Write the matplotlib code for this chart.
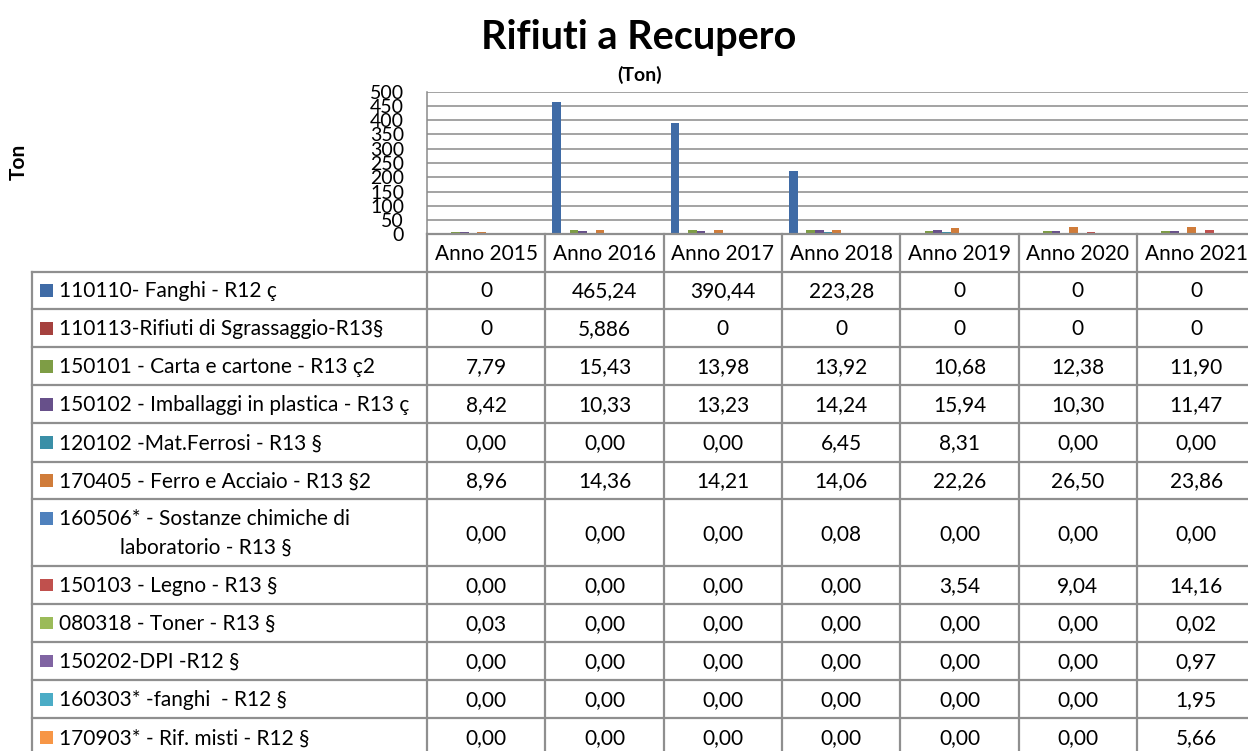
import numpy as np
import matplotlib
matplotlib.use("Agg")
import matplotlib.pyplot as plt
from matplotlib.patches import Rectangle

plt.rcParams['font.family'] = ['Lato', 'DejaVu Sans']

# --- data -----------------------------------------------------------------
years = ["Anno 2015", "Anno 2016", "Anno 2017", "Anno 2018",
         "Anno 2019", "Anno 2020", "Anno 2021"]

series_names = [
    "110110- Fanghi - R12 ç",
    "110113-Rifiuti di Sgrassaggio-R13§",
    "150101 - Carta e cartone - R13 ç2",
    "150102 - Imballaggi in plastica - R13 ç",
    "120102 -Mat.Ferrosi - R13 §",
    "170405 - Ferro e Acciaio - R13 §2",
    "160506* - Sostanze chimiche di\n          laboratorio - R13 §",
    "150103 - Legno - R13 §",
    "080318 - Toner - R13 §",
    "150202-DPI -R12 §",
    "160303* -fanghi  - R12 §",
    "170903* - Rif. misti - R12 §",
]

values = [
    [0, 465.24, 390.44, 223.28, 0, 0, 0],
    [0, 5.886, 0, 0, 0, 0, 0],
    [7.79, 15.43, 13.98, 13.92, 10.68, 12.38, 11.90],
    [8.42, 10.33, 13.23, 14.24, 15.94, 10.30, 11.47],
    [0.00, 0.00, 0.00, 6.45, 8.31, 0.00, 0.00],
    [8.96, 14.36, 14.21, 14.06, 22.26, 26.50, 23.86],
    [0.00, 0.00, 0.00, 0.08, 0.00, 0.00, 0.00],
    [0.00, 0.00, 0.00, 0.00, 3.54, 9.04, 14.16],
    [0.03, 0.00, 0.00, 0.00, 0.00, 0.00, 0.02],
    [0.00, 0.00, 0.00, 0.00, 0.00, 0.00, 0.97],
    [0.00, 0.00, 0.00, 0.00, 0.00, 0.00, 1.95],
    [0.00, 0.00, 0.00, 0.00, 0.00, 0.00, 5.66],
]

# first two rows use Excel "general" format, the rest two decimals
number_formats = ["general", "general"] + ["fixed2"] * 10

colors = ["#3F6BA6", "#A5413E", "#7E9D45", "#67508A", "#3A8FA7", "#D07C3A",
          "#4F81BD", "#C0504D", "#9BBB59", "#8064A2", "#4BACC6", "#F79646"]


def fmt(v, kind):
    if kind == "general":
        s = f"{v:g}"
    else:
        s = f"{v:.2f}"
    return s.replace(".", ",")


# --- layout (pixels) ------------------------------------------------------
W, H = 1248, 751
plot_left, plot_right = 427.0, 1255.3
plot_top, plot_bottom = 91.7, 234.3
legend_left = 31.7
header_bottom = 271.5
row_edges = [271.5, 309.3, 347.3, 385.2, 423.3, 461.6, 499.3,
             566.0, 604.0, 642.0, 680.0, 718.3, 756.3]
grid_col = "#8A8A8A"
border_col = "#8F8F8F"

fig = plt.figure(figsize=(W / 100, H / 100), dpi=100)

# chart axes
ax = fig.add_axes([plot_left / W, 1 - plot_bottom / H,
                   (plot_right - plot_left) / W, (plot_bottom - plot_top) / H])
n_ser = len(series_names)
x = np.arange(len(years))
group = 0.882
bw = group / n_ser
for i, (vals, c) in enumerate(zip(values, colors)):
    ax.bar(x + (i - (n_ser - 1) / 2) * bw, vals, width=bw, color=c,
           edgecolor="none", zorder=3)
ax.set_xlim(-0.5, len(years) - 0.5)
ax.set_ylim(0, 500)
ax.set_yticks(np.arange(0, 501, 50))
ax.set_yticklabels([str(t) for t in range(0, 501, 50)], fontsize=14)
ax.tick_params(axis="y", length=0, pad=16.5)
ax.set_xticks([])
ax.grid(axis="y", color=grid_col, linewidth=1.1, zorder=0)
for s in ["top", "right", "bottom"]:
    ax.spines[s].set_visible(False)
ax.spines["left"].set_color(grid_col)
ax.spines["left"].set_linewidth(1.1)

# overlay in pixel coordinates for titles and the data table
ov = fig.add_axes([0, 0, 1, 1])
ov.set_xlim(0, W)
ov.set_ylim(H, 0)
ov.axis("off")
ov.patch.set_alpha(0)

ov.text(639, 37, "Rifiuti a Recupero", ha="center", va="center",
        fontsize=28.5, fontweight="bold")
ov.text(640, 75, "(Ton)", ha="center", va="center", fontsize=14,
        fontweight="bold")
ov.text(19, 162, "Ton", ha="center", va="center", rotation=90,
        fontsize=15, fontweight="bold")

col_w = (plot_right - plot_left) / len(years)
col_edges = [plot_left + k * col_w for k in range(len(years) + 1)]
lw = 1.6

# header row
for k, yr in enumerate(years):
    ov.text(col_edges[k] + col_w / 2, (plot_bottom + header_bottom) / 2 + 1,
            yr, ha="center", va="center", fontsize=15)
for xe in col_edges:
    ov.plot([xe, xe], [plot_bottom, row_edges[-1]], color=border_col, lw=lw)
ov.plot([legend_left, legend_left], [header_bottom, row_edges[-1]],
        color=border_col, lw=lw)
ov.plot([plot_left, plot_right], [plot_bottom, plot_bottom],
        color=border_col, lw=lw)
for ye in row_edges:
    ov.plot([legend_left, plot_right], [ye, ye], color=border_col, lw=lw)

# body rows
for r, (name, vals, kind, c) in enumerate(zip(series_names, values,
                                              number_formats, colors)):
    top, bot = row_edges[r], row_edges[r + 1]
    yc = (top + bot) / 2
    first_line_y = top + 19 if "\n" in name else yc
    ov.add_patch(Rectangle((40, first_line_y - 6.3), 12.7, 12.7,
                           color=c, lw=0))
    ov.text(59, first_line_y + 1, name.split("\n")[0], ha="left",
            va="center", fontsize=15)
    if "\n" in name:
        ov.text(120, first_line_y + 29, name.split("\n")[1].strip(),
                ha="left", va="center", fontsize=15)
    for k, v in enumerate(vals):
        ov.text(col_edges[k] + col_w / 2, yc + 1, fmt(v, kind),
                ha="center", va="center", fontsize=15)

fig.savefig("out.png", dpi=100)
